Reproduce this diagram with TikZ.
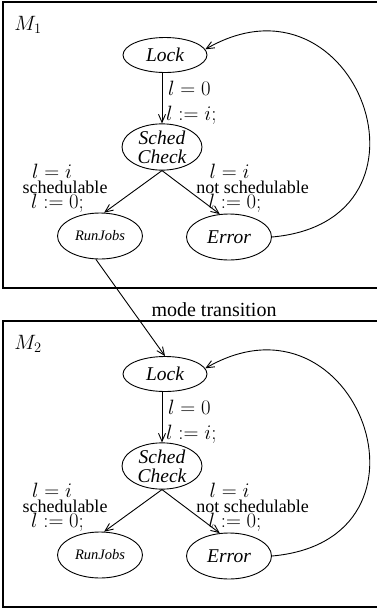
\documentclass[tikz,border=0pt]{standalone}
\usepackage[no-math]{fontspec}
\setmainfont{Liberation Serif}
\usepackage{amsmath}
\usetikzlibrary{arrows.meta}
\usetikzlibrary{shapes.geometric}

\begin{document}
\begin{tikzpicture}[x=1pt,y=1pt,
        frame/.style={draw,line width=1.6pt},
        loc/.style={ellipse,draw,line width=0.9pt,inner sep=0pt,
            minimum width=84pt,minimum height=35pt,
            font=\fontsize{19.5}{20}\selectfont\itshape},
        lbl/.style={inner sep=0pt,font=\fontsize{20.5}{21}\selectfont},
        txt/.style={inner sep=0pt,font=\fontsize{18}{18}\selectfont},
        edge/.style={line width=0.9pt,-{Straight Barb[length=8pt,width=7pt]}}]
    \useasboundingbox (0,0) rectangle (376,-611);
    \foreach \m/\dy in {1/0,2/-319} {
        \begin{scope}[yshift=\dy pt]
        \draw[frame] (3,-2) rectangle (382,-288);
        \node[lbl] (M\m) at (28,-25) {$M_\m$};
        \node[loc] (Lock\m) at (165,-55) {Lock};
        \node[loc,minimum width=80pt,minimum height=42pt,align=center] (Sched\m) at (162,-147) {Sched\\[-1pt]Check};
        \node[loc,minimum width=85pt,minimum height=46pt,font=\fontsize{14.5}{15}\selectfont\itshape] (Run\m) at (100,-236) {RunJobs};
        \node[loc,minimum width=85pt,minimum height=46pt] (Err\m) at (229,-237) {Error};
        \node[lbl,anchor=west] (g\m) at (168,-88) {$l = 0$};
        \node[lbl,anchor=west] (a\m) at (166,-115) {$l := i;$};
        \node[lbl] (gl\m) at (52,-171) {$l = i$};
        \node[txt] (sl\m) at (65,-187) {schedulable};
        \node[lbl] (al\m) at (57.5,-203) {$l := 0;$};
        \node[lbl] (gr\m) at (229.5,-171) {$l = i$};
        \node[txt] (sr\m) at (252.5,-187) {not schedulable};
        \node[lbl] (ar\m) at (235,-203) {$l := 0;$};
        \draw[edge] (Sched\m.north |- Lock\m.south) -- (Sched\m.north);
        \draw[edge] (Sched\m.south) -- (Run\m.80);
        \draw[edge] (Sched\m.south) -- (Err\m.112);
        \draw[edge] (Err\m.east) .. controls +(5:180) and +(30:175) .. (Lock\m.8);
        \end{scope}
    }
    \node[inner sep=0pt,font=\fontsize{20}{20}\selectfont] (trans) at (214,-310) {mode transition};
    \draw[edge] (Run1.-100) -- (Lock2.north);
\end{tikzpicture}
\end{document}
